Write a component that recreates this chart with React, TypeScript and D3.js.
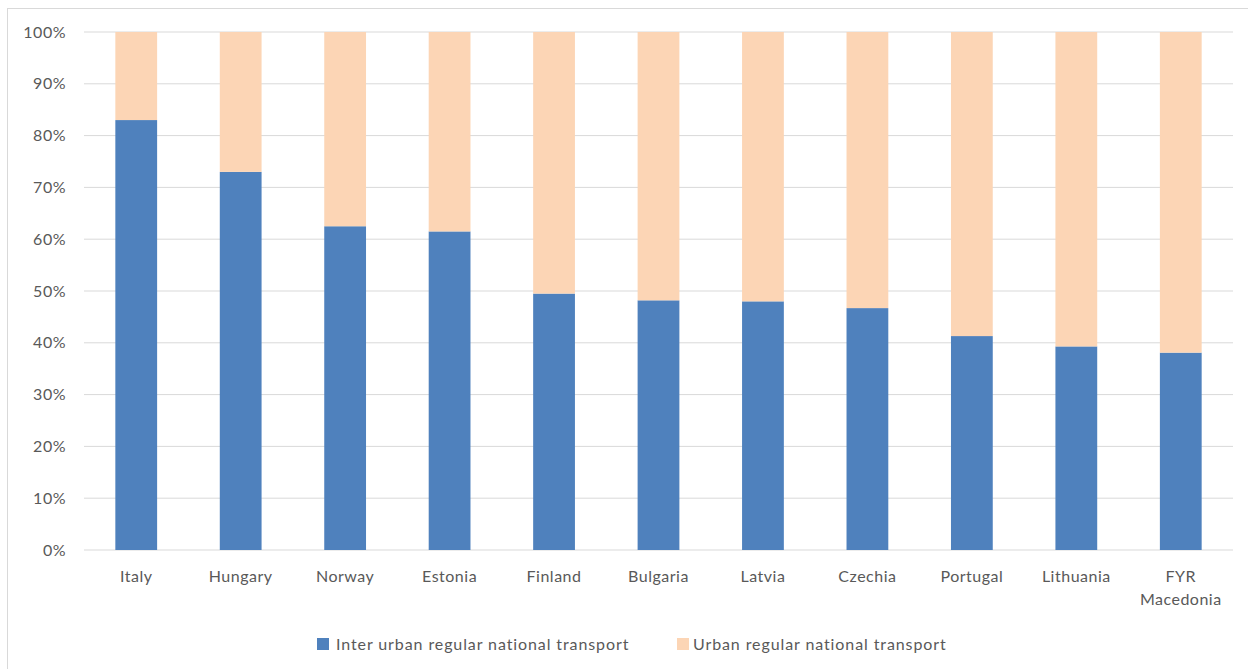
import * as d3 from 'd3'

const countries = [
  'Italy',
  'Hungary',
  'Norway',
  'Estonia',
  'Finland',
  'Bulgaria',
  'Latvia',
  'Czechia',
  'Portugal',
  'Lithuania',
  'FYR Macedonia',
]
const interurban = [83, 73, 62.5, 61.5, 49.5, 48.2, 48, 46.7, 41.3, 39.3, 38.1]
const urban = interurban.map((v) => 100 - v)
const seriesNames = ['Inter urban regular national transport', 'Urban regular national transport']
const yTicks = [0, 10, 20, 30, 40, 50, 60, 70, 80, 90, 100]

const width = 1248
const height = 669
const margin = { top: 32, right: 15, bottom: 119, left: 84 }
const colors = ['#4F81BD', '#FCD5B5']
const textColor = '#595959'
const font = 'Lato, "Open Sans", sans-serif'

export default function App() {
  const innerWidth = width - margin.left - margin.right
  const innerHeight = height - margin.top - margin.bottom

  const x = d3.scaleBand<string>().domain(countries).range([0, innerWidth]).paddingInner(0.6).paddingOuter(0.3)
  const y = d3.scaleLinear().domain([0, 100]).range([innerHeight, 0])

  const rows = countries.map((c, i) => ({ country: c, inter: interurban[i], urban: urban[i] }))
  const stacked = d3.stack<(typeof rows)[number]>().keys(['inter', 'urban'])(rows)

  return (
    <svg
      width={width}
      height={height}
      style={{ position: 'absolute', left: 0, top: 0, background: '#fff' }}
      fontFamily={font}
    >
      <rect x={7.5} y={8.5} width={width} height={height} fill="none" stroke="#D9D9D9" />
      <g transform={`translate(${margin.left}, ${margin.top})`}>
        {yTicks.map((t) => (
          <g key={t}>
            <line x1={0} x2={innerWidth} y1={y(t)} y2={y(t)} stroke="#D9D9D9" strokeWidth={1} />
            <text
              x={-18}
              y={y(t)}
              dy="0.35em"
              textAnchor="end"
              fontSize={16}
              letterSpacing={0.5}
              fill={textColor}
            >
              {t}%
            </text>
          </g>
        ))}
        {stacked.map((layer, li) => (
          <g key={layer.key} fill={colors[li]}>
            {layer.map((d) => (
              <rect
                key={d.data.country}
                x={x(d.data.country)}
                y={y(d[1])}
                width={x.bandwidth()}
                height={y(d[0]) - y(d[1])}
              />
            ))}
          </g>
        ))}
        {countries.map((c) => {
          const words = c === 'FYR Macedonia' ? ['FYR', 'Macedonia'] : [c]
          const cx = (x(c) ?? 0) + x.bandwidth() / 2
          return (
            <text
              key={c}
              x={cx}
              y={innerHeight + 32}
              textAnchor="middle"
              fontSize={16}
              letterSpacing={0.5}
              fill={textColor}
            >
              {words.map((w, i) => (
                <tspan key={w} x={cx} dy={i === 0 ? 0 : 23}>
                  {w}
                </tspan>
              ))}
            </text>
          )
        })}
      </g>
      <g transform="translate(317, 644)">
        {seriesNames.map((name, i) => (
          <g key={name} transform={`translate(${i * 360}, 0)`}>
            <rect x={0} y={-6} width={12} height={12} fill={colors[i]} />
            <text
              x={i === 0 ? 19 : 16}
              y={0}
              dy="0.35em"
              fontSize={16}
              letterSpacing={0.9}
              fill={textColor}
            >
              {name}
            </text>
          </g>
        ))}
      </g>
    </svg>
  )
}
